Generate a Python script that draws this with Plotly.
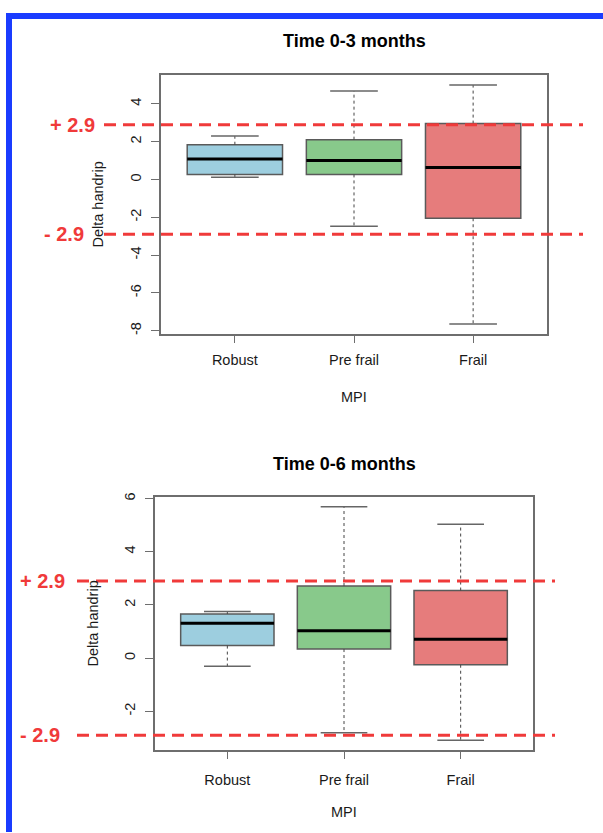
import plotly.graph_objects as go

W, H = 603, 833

# ---------------- data ----------------
categories = ["Robust", "Pre frail", "Frail"]
colors = ["#9DCEDF", "#88C98B", "#E67C7C"]

# Time 0-3 months
t3_lower = [0.12, -2.47, -7.65]
t3_q1 = [0.27, 0.27, -2.05]
t3_median = [1.08, 1.01, 0.63]
t3_q3 = [1.84, 2.11, 2.96]
t3_upper = [2.30, 4.68, 5.00]
t3_yticks = [-8, -6, -4, -2, 0, 2, 4]

# Time 0-6 months
t6_lower = [-0.31, -2.81, -3.09]
t6_q1 = [0.47, 0.34, -0.25]
t6_median = [1.31, 1.03, 0.71]
t6_q3 = [1.66, 2.71, 2.54]
t6_upper = [1.75, 5.69, 5.03]
t6_yticks = [-2, 0, 2, 4, 6]

threshold = 2.9
titles = ["Time 0-3 months", "Time 0-6 months"]
y_title = "Delta handrip"
x_title = "MPI"

# ---------------- layout helpers ----------------
def px_x(p):
    return p / W

def px_y(p):
    return 1 - p / H

FONT = "Liberation Sans, Arial, Helvetica, sans-serif"

panels = [
    dict(stats=(t3_lower, t3_q1, t3_median, t3_q3, t3_upper), yticks=t3_yticks, title=titles[0],
         xpx=(161, 547), ypx=(71, 331), title_y=36, ytitle_x=98, xlab_y=395,
         red_x=(104, 583), plus_x=97, minus_x=86, xstand=4),
    dict(stats=(t6_lower, t6_q1, t6_median, t6_q3, t6_upper), yticks=t6_yticks, title=titles[1],
         xpx=(155, 533), ypx=(496, 750), title_y=462, ytitle_x=93, xlab_y=813,
         red_x=(77, 555), plus_x=67, minus_x=62, xstand=8),
]

fig = go.Figure()
shapes = []
annotations = []

for k, p in enumerate(panels):
    lower, q1, med, q3, upper = p["stats"]
    xa = "x" if k == 0 else "x2"
    ya = "y" if k == 0 else "y2"
    for i, cat in enumerate(categories):
        xi = i + 1
        # box body (no solid whiskers)
        fig.add_trace(go.Box(
            x=[xi], q1=[q1[i]], median=[med[i]], q3=[q3[i]],
            lowerfence=[q1[i]], upperfence=[q3[i]],
            width=0.8, whiskerwidth=0, fillcolor=colors[i],
            line=dict(color="#5a5a5a", width=1.5), boxpoints=False,
            hoverinfo="skip", showlegend=False, xaxis=xa, yaxis=ya))
        # dashed whiskers
        fig.add_trace(go.Scatter(
            x=[xi, xi, None, xi, xi], y=[q3[i], upper[i], None, q1[i], lower[i]],
            mode="lines", line=dict(color="#444444", width=1, dash="3px,3px"),
            hoverinfo="skip", showlegend=False, xaxis=xa, yaxis=ya))
        # staples
        fig.add_trace(go.Scatter(
            x=[xi - 0.2, xi + 0.2, None, xi - 0.2, xi + 0.2],
            y=[upper[i], upper[i], None, lower[i], lower[i]],
            mode="lines", line=dict(color="#666666", width=1.5),
            hoverinfo="skip", showlegend=False, xaxis=xa, yaxis=ya))
        # median
        fig.add_trace(go.Scatter(
            x=[xi - 0.4, xi + 0.4], y=[med[i], med[i]],
            mode="lines", line=dict(color="#000000", width=3),
            hoverinfo="skip", showlegend=False, xaxis=xa, yaxis=ya))

    lo, hi = min(lower), max(upper)
    pad = 0.04 * (hi - lo)
    yr = [lo - pad, hi + pad]
    xr = [0.5 - 0.12, 3.5 + 0.12]

    axcommon = dict(showline=True, mirror=True, linecolor="#6e6e6e", linewidth=1.5,
                    ticks="outside", ticklen=8, tickcolor="#6e6e6e", tickwidth=1.2,
                    showgrid=False, zeroline=False,
                    tickfont=dict(family=FONT, size=14.5, color="#1a1a1a"))
    xname = "xaxis" if k == 0 else "xaxis2"
    yname = "yaxis" if k == 0 else "yaxis2"
    fig.update_layout(**{
        xname: dict(domain=[px_x(p["xpx"][0]), px_x(p["xpx"][1])], range=xr,
                    tickvals=[1, 2, 3], ticktext=categories, anchor=ya,
                    ticklabelstandoff=p["xstand"], **axcommon),
        yname: dict(domain=[px_y(p["ypx"][1]), px_y(p["ypx"][0])], range=yr,
                    tickvals=p["yticks"], ticktext=[str(v) for v in p["yticks"]],
                    tickangle=-90, anchor=xa,
                    ticklabelstandoff=4, **axcommon),
    })

    # red dashed thresholds
    for val, lab, rx in [(threshold, "+ 2.9", p["plus_x"]), (-threshold, "- 2.9", p["minus_x"])]:
        shapes.append(dict(type="line", xref="paper", yref=ya,
                           x0=px_x(p["red_x"][0]), x1=px_x(p["red_x"][1]), y0=val, y1=val,
                           line=dict(color="#F03A3A", width=3, dash="12px,7px"), layer="above"))
        annotations.append(dict(text="<b>%s</b>" % lab, xref="paper", yref=ya, x=px_x(rx), y=val,
                                xanchor="right", yanchor="middle", showarrow=False,
                                font=dict(family=FONT, size=20, color="#F03A3A")))

    # titles
    cx = px_x((p["xpx"][0] + p["xpx"][1]) / 2)
    annotations.append(dict(text="<b>%s</b>" % p["title"], xref="paper", yref="paper",
                            x=cx, y=px_y(p["title_y"]), xanchor="center", yanchor="middle",
                            showarrow=False, font=dict(family=FONT, size=18, color="#000")))
    annotations.append(dict(text=x_title, xref="paper", yref="paper",
                            x=cx, y=px_y(p["xlab_y"]), xanchor="center", yanchor="middle",
                            showarrow=False, font=dict(family=FONT, size=14.5, color="#1a1a1a")))
    annotations.append(dict(text=y_title, xref="paper", yref="paper",
                            x=px_x(p["ytitle_x"]), y=px_y((p["ypx"][0] + p["ypx"][1]) / 2),
                            xanchor="center", yanchor="middle", textangle=-90,
                            showarrow=False, font=dict(family=FONT, size=14.5, color="#1a1a1a")))

# blue frame (top and left edges)
shapes.append(dict(type="rect", xref="paper", yref="paper", x0=px_x(6), x1=px_x(12),
                   y0=0, y1=px_y(8), fillcolor="#1A3CFF", line=dict(width=0), layer="above"))
shapes.append(dict(type="rect", xref="paper", yref="paper", x0=px_x(6), x1=1,
                   y0=px_y(14), y1=px_y(8), fillcolor="#1A3CFF", line=dict(width=0), layer="above"))

fig.update_layout(width=W, height=H, autosize=False,
                  margin=dict(l=0, r=0, t=0, b=0),
                  paper_bgcolor="white", plot_bgcolor="white",
                  boxmode="overlay", shapes=shapes, annotations=annotations,
                  font=dict(family=FONT))

fig.write_html("out.html")
